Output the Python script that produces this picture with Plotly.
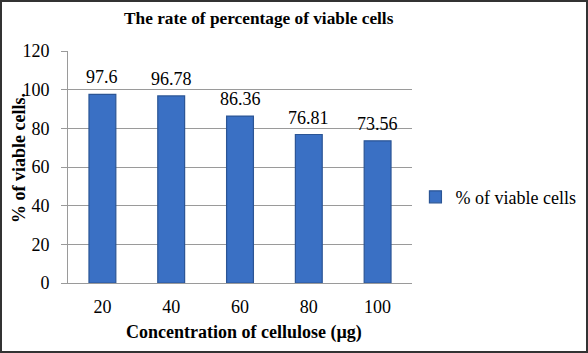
import plotly.graph_objects as go

categories = ["20", "40", "60", "80", "100"]
values = [97.6, 96.78, 86.36, 76.81, 73.56]
labels = ["97.6", "96.78", "86.36", "76.81", "73.56"]
series_name = "% of viable cells"
title_text = "The rate of percentage of viable cells"
x_title = "Concentration of cellulose (µg)"
y_title = "% of viable cells."

font = "Liberation Serif"

fig = go.Figure()
fig.add_trace(go.Bar(
    x=categories, y=values, name=series_name,
    marker=dict(color="#3a70c4", line=dict(color="#2b5595", width=1.2)),
))

# category axis: annotation x given by category index
annotations = [
    dict(x=i, y=v, text=t, xref="x", yref="y", showarrow=False,
         yanchor="bottom", yshift=5,
         font=dict(family=font, size=18, color="#000"))
    for i, (v, t) in enumerate(zip(values, labels))
]
annotations += [
    dict(text=f"<b>{y_title}</b>", xref="paper", yref="paper",
         x=(19 - 68) / 344, y=(283 - 158) / 232, textangle=-90,
         showarrow=False, xanchor="center", yanchor="middle",
         font=dict(family=font, size=18, color="#000")),
    dict(text=f"<b>{x_title}</b>", xref="paper", yref="paper",
         x=(244 - 68) / 344, y=(283 - 332) / 232,
         showarrow=False, xanchor="center", yanchor="middle",
         font=dict(family=font, size=18, color="#000")),
    dict(text=f"<b>{title_text}</b>", xref="paper", yref="paper",
         x=(258.5 - 68) / 344, y=(283 - 19) / 232,
         showarrow=False, xanchor="center", yanchor="middle",
         font=dict(family=font, size=17.3, color="#000")),
]

fig.update_layout(
    width=588, height=353,
    margin=dict(l=68, r=176, t=51, b=70, autoexpand=False),
    paper_bgcolor="white", plot_bgcolor="white",
    bargap=0.61,
    font=dict(family=font, size=18, color="#000"),
    showlegend=True,
    legend=dict(x=1.01, y=0.37, xanchor="left", yanchor="middle",
                font=dict(family=font, size=18, color="#000"),
                itemwidth=30, bgcolor="rgba(0,0,0,0)"),
    xaxis=dict(
        type="category", range=[-0.5, len(categories) - 0.5],
        showline=True, linecolor="#9a9a9a", linewidth=1,
        ticks="outside", ticklen=7, tickcolor="rgba(0,0,0,0)",
        tickfont=dict(family=font, size=18, color="#000"),
    ),
    yaxis=dict(
        range=[0, 120], dtick=20,
        showline=True, linecolor="#9a9a9a", linewidth=1,
        ticks="outside", ticklen=6, tickcolor="#9a9a9a",
        ticklabelstandoff=8,
        showgrid=True, gridcolor="#9a9a9a", gridwidth=1,
        zeroline=False,
        tickfont=dict(family=font, size=18, color="#000"),
    ),
    annotations=annotations,
    shapes=[dict(type="rect", xref="paper", yref="paper",
                 x0=(1 - 68) / 344, x1=(587 - 68) / 344,
                 y0=(283 - 352) / 232, y1=(283 - 1) / 232,
                 line=dict(color="#333", width=2), fillcolor="rgba(0,0,0,0)")],
)

fig.write_html("out.html")
